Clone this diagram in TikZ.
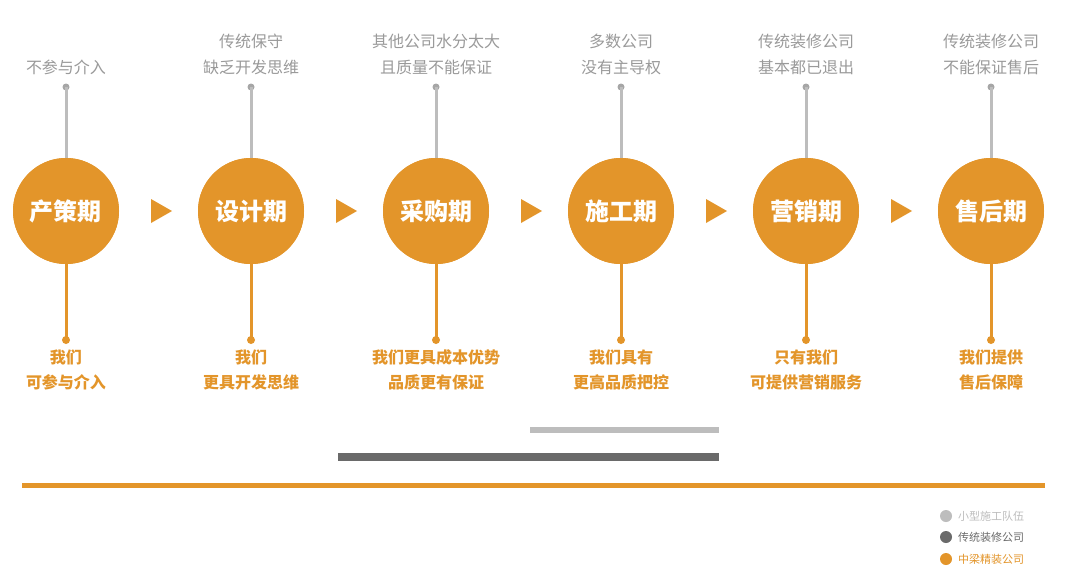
\documentclass[tikz,border=0pt]{standalone}
\usepackage{fontspec}
\setmainfont{Noto Sans CJK SC}
\newfontfamily\cjkb{Noto Sans CJK SC Bold}
\definecolor{org}{HTML}{E3952A}
\definecolor{lg}{HTML}{BDBDBD}
\definecolor{dg}{HTML}{6A6A6A}
\definecolor{gt}{HTML}{9A9A9A}
\begin{document}
\begin{tikzpicture}[x=1pt,y=-1pt,
  phase/.style={circle,fill=org,minimum size=106pt,inner sep=0,text=white,font=\fontsize{24}{26}\selectfont\bfseries},
  toptxt/.style={align=center,text=gt,font=\fontsize{16}{26}\selectfont},
  bottxt/.style={align=center,text=org,font=\fontsize{16}{25}\selectfont\bfseries},
  dotg/.style={circle,fill=gray!70,minimum size=7pt,inner sep=0},
  doto/.style={circle,fill=org,minimum size=8pt,inner sep=0},
  tri/.style={fill=org}]
\useasboundingbox (0,0) rectangle (1080,584);
\fill[white] (0,0) rectangle (1080,584);
\foreach \i/\x/\n/\t/\b in {1/66/产策期/{不参与介入}/{我们\\可参与介入},
  2/251/设计期/{传统保守\\缺乏开发思维}/{我们\\更具开发思维},
  3/436/采购期/{其他公司水分太大\\且质量不能保证}/{我们更具成本优势\\品质更有保证},
  4/621/施工期/{多数公司\\没有主导权}/{我们具有\\更高品质把控},
  5/806/营销期/{传统装修公司\\基本都已退出}/{只有我们\\可提供营销服务},
  6/991/售后期/{传统装修公司\\不能保证售后}/{我们提供\\售后保障}}{
  \node[dotg] (gd\i) at (\x,87) {};
  \node[doto] (od\i) at (\x,340) {};
  \node[phase] (c\i) at (\x,211) {};
  \draw[lg,line width=3pt] (gd\i.center) -- (c\i.north);
  \draw[org,line width=3pt] (c\i.south) -- (od\i.center);
  \node[phase] at (\x,211) {\n};
  \node[toptxt,anchor=south] (t\i) at (\x,78) {\t};
  \node[bottxt,anchor=north] (b\i) at (\x,346) {\b};
}
\foreach \x in {161,346,531,716,901}{
  \fill[tri] (\x-10,199) -- (\x+11,211) -- (\x-10,223) -- cycle;
}
\coordinate (l1) at (530,430); \coordinate (l2) at (719,430);
\coordinate (d1) at (338,457); \coordinate (d2) at (719,457);
\coordinate (o1) at (22,485); \coordinate (o2) at (1045,485);
\draw[lg,line width=6pt] (l1) -- (l2);
\draw[dg,line width=8pt] (d1) -- (d2);
\draw[org,line width=5pt] (o1) -- (o2);
\foreach \y/\c/\s in {516/lg/小型施工队伍,537/dg/传统装修公司,559/org/中梁精装公司}{
  \node[circle,fill=\c,minimum size=12pt,inner sep=0] at (946,\y) {};
  \node[anchor=west,text=\c,font=\fontsize{11}{12}\selectfont,inner sep=0] at (958,\y) {\s};
}
\end{tikzpicture}
\end{document}
